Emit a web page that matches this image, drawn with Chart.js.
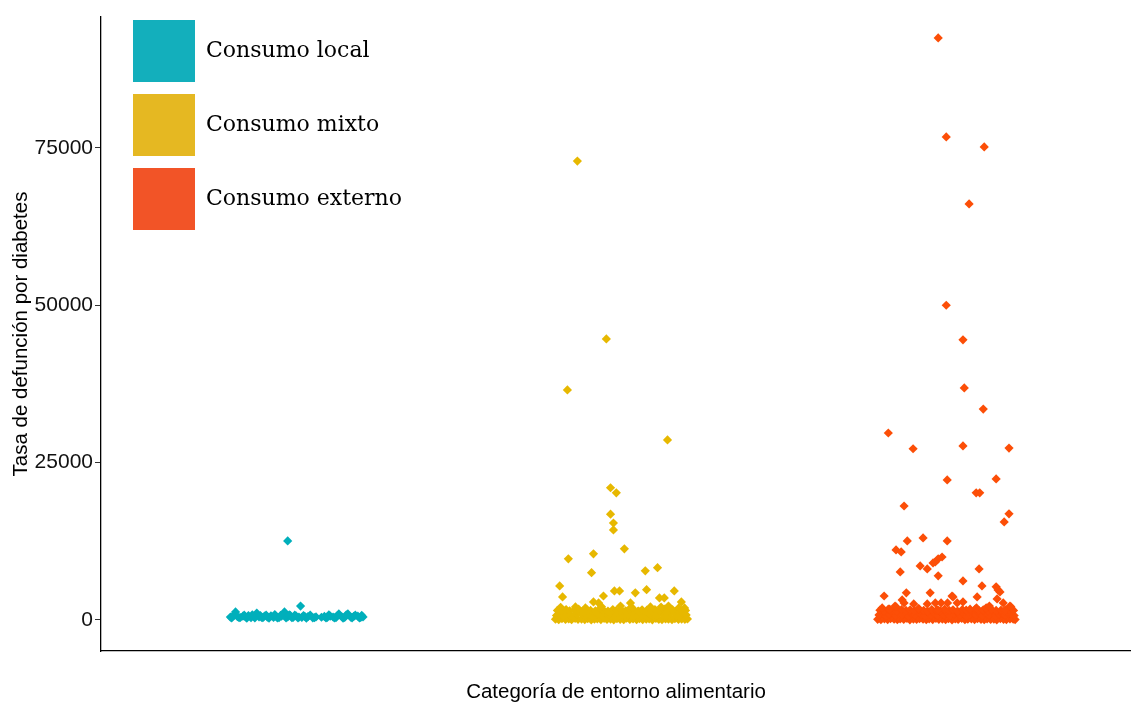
<!DOCTYPE html>
<html>
<head>
<meta charset="utf-8">
<script src="https://cdn.jsdelivr.net/npm/chart.js@4.4.1/dist/chart.umd.min.js"></script>
<style>
  body { margin: 0; background: #fff; }
</style>
</head>
<body>
<canvas id="myChart" width="1131" height="702"></canvas>
<script>
var categories = ["Consumo local", "Consumo mixto", "Consumo externo"];
var pointColors = ["#00AFBB", "#E7B800", "#FC4E07"];
var legendColors = ["#13AFBC", "#E5B822", "#F25427"];
var yTicks = [0, 25000, 50000, 75000];

// jittered x position (category index + jitter) and rate
var localX = [0.802, 0.811, 0.818, 0.824, 0.833, 0.841, 0.849, 0.858, 0.866, 0.874, 0.884, 0.891, 0.899, 0.908, 0.917, 0.928,
  0.936, 0.944, 0.953, 0.961, 0.970, 0.980, 0.988, 0.997, 1.006, 1.015, 1.024, 1.033, 1.043, 1.058, 1.068, 1.085,
  1.094, 1.103, 1.112, 1.121, 1.130, 1.139, 1.148, 1.157, 1.167, 1.176, 1.185, 1.198, 1.207, 1.214,
  0.806, 0.829, 0.853, 0.878, 0.903, 0.922, 0.948, 0.975, 0.993, 1.012, 1.038, 1.063, 1.099, 1.125, 1.152, 1.180, 1.203,
  0.815, 0.845, 0.870, 0.895, 0.913, 0.940, 0.958, 0.985, 1.002, 1.029, 1.050, 1.108, 1.135, 1.162, 1.190, 1.210,
  0.980, 1.020];
var localY = [450, 650, 1270, 520, 380, 600, 470, 700, 350, 560, 1100, 480, 400, 620, 430, 650,
  380, 560, 340, 600, 1270, 470, 720, 400, 640, 450, 380, 560, 520, 330, 480, 420,
  550, 380, 600, 460, 350, 950, 500, 390, 950, 440, 560, 600, 380, 470,
  300, 350, 280, 320, 360, 290, 330, 300, 340, 310, 280, 350, 300, 330, 290, 320, 310,
  800, 750, 820, 700, 780, 850, 720, 800, 760, 700, 780, 820, 740, 790, 760, 720,
  12550, 2200];

var mixtoX = [1.812, 1.822, 1.832, 1.843, 1.853, 1.862, 1.873, 1.882, 1.893, 1.903, 1.912, 1.923, 1.933, 1.942, 1.953, 1.963,
  1.972, 1.983, 1.993, 2.003, 2.013, 2.024, 2.033, 2.043, 2.053, 2.064, 2.073, 2.083, 2.094, 2.103, 2.113, 2.124,
  2.133, 2.143, 2.154, 2.163, 2.174, 2.183, 2.194, 2.204, 2.214, 2.222,
  1.815, 1.826, 1.838, 1.848, 1.858, 1.868, 1.878, 1.888, 1.898, 1.908, 1.918, 1.928, 1.938, 1.948, 1.958, 1.968,
  1.978, 1.988, 1.998, 2.008, 2.018, 2.028, 2.038, 2.048, 2.058, 2.068, 2.078, 2.088, 2.098, 2.108, 2.118, 2.128,
  2.138, 2.148, 2.158, 2.168, 2.178, 2.188, 2.198, 2.208, 2.218,
  1.818, 1.831, 1.845, 1.856, 1.871, 1.884, 1.896, 1.910, 1.921, 1.936, 1.950, 1.961, 1.975, 1.990, 2.001, 2.016,
  2.030, 2.041, 2.056, 2.070, 2.081, 2.096, 2.110, 2.121, 2.136, 2.150, 2.161, 2.176, 2.190, 2.201, 2.216,
  1.874, 2.014, 2.107, 2.163, 1.828, 1.905, 1.955, 2.050, 2.140, 2.195,
  1.880, 1.970, 1.849, 2.160, 1.983, 2.001, 1.983, 1.992, 1.992, 2.026, 1.852, 1.930, 1.924, 2.091, 2.129,
  1.825, 1.834, 1.995, 2.011, 2.060, 2.095, 2.135, 2.150, 2.181, 2.203, 1.961, 1.930, 1.946, 2.045, 2.213];
var mixtoY = [120, 40, 210, 80, 160, 30, 250, 90, 140, 60, 200, 20, 110, 170, 50, 230,
  70, 130, 10, 190, 100, 40, 260, 80, 150, 30, 210, 60, 120, 180, 20, 240,
  90, 50, 160, 110, 30, 200, 70, 140, 90, 150,
  700, 900, 650, 1050, 800, 600, 950, 1200, 750, 850, 1000, 650, 1300, 900, 700, 1100,
  800, 1250, 650, 950, 1000, 700, 850, 1150, 600, 1350, 900, 750, 1050, 800, 950, 700,
  1200, 850, 650, 1000, 1300, 750, 900, 1100, 800,
  1500, 1400, 1650, 1450, 1550, 1700, 1400, 1600, 1500, 1450, 1750, 1550, 1400, 1650, 1500, 1600,
  1450, 1700, 1500, 1400, 1600, 1550, 1450, 1650, 1500, 1700, 1400, 1600, 1550, 1450, 1500,
  2070, 2200, 2070, 2200, 2000, 1900, 2100, 1950, 2050, 1900,
  72900, 44650, 36550, 28600, 21000, 20200, 16800, 15400, 14300, 11300, 9700, 10500, 7500, 7800, 8300,
  5400, 3650, 4600, 4600, 4300, 4800, 3500, 3500, 4600, 2860, 3800, 2860, 2700, 2700, 1900];

var externoX = [2.813, 2.823, 2.834, 2.844, 2.853, 2.864, 2.874, 2.883, 2.894, 2.904, 2.913, 2.924, 2.934, 2.943, 2.954, 2.964,
  2.973, 2.984, 2.994, 3.003, 3.014, 3.024, 3.033, 3.044, 3.054, 3.063, 3.074, 3.084, 3.093, 3.104, 3.114, 3.123,
  3.134, 3.144, 3.153, 3.164, 3.174, 3.183, 3.194, 3.204, 3.213, 3.224, 3.234, 3.240,
  2.817, 2.828, 2.839, 2.849, 2.859, 2.869, 2.879, 2.889, 2.899, 2.909, 2.919, 2.929, 2.939, 2.949, 2.959, 2.969,
  2.979, 2.989, 2.999, 3.009, 3.019, 3.029, 3.039, 3.049, 3.059, 3.069, 3.079, 3.089, 3.099, 3.109, 3.119, 3.129,
  3.139, 3.149, 3.159, 3.169, 3.179, 3.189, 3.199, 3.209, 3.219, 3.229, 3.237,
  2.820, 2.833, 2.846, 2.861, 2.872, 2.887, 2.901, 2.914, 2.927, 2.941, 2.956, 2.968, 2.981, 2.996, 3.007, 3.021,
  3.035, 3.047, 3.061, 3.076, 3.088, 3.101, 3.116, 3.127, 3.141, 3.156, 3.167, 3.181, 3.196, 3.207, 3.221, 3.235,
  2.867, 2.925, 3.044, 3.224, 2.850, 2.940, 3.100, 3.150, 3.210, 3.000,
  3.001, 3.026, 3.144, 3.097, 3.026, 3.078, 3.082, 3.141, 2.846, 2.923, 3.078, 3.221, 3.029, 3.181, 3.119, 3.130,
  2.895, 3.221, 3.206, 2.905, 2.954, 3.029, 2.870, 2.886, 3.013, 3.001, 2.992, 2.985, 2.945, 2.967, 2.883, 3.001,
  3.128, 3.078, 3.137, 3.181, 3.187, 3.193, 3.184, 2.833, 2.902, 2.976, 3.047, 3.122, 2.889, 2.895, 2.870, 3.078,
  3.060, 3.203, 3.227, 2.827, 2.967, 2.992, 3.010, 3.030, 3.120, 3.160];
var externoY = [90, 30, 180, 60, 220, 120, 40, 160, 80, 250, 20, 140, 70, 200, 110, 30,
  170, 60, 230, 90, 130, 50, 190, 20, 150, 80, 240, 40, 120, 170, 60, 210,
  100, 30, 180, 70, 140, 20, 200, 90, 50, 160, 110, 60,
  800, 1100, 650, 950, 1250, 700, 1050, 850, 1300, 600, 1000, 750, 1150, 900, 650, 1200,
  800, 1000, 700, 1350, 850, 1100, 650, 950, 1250, 750, 1050, 600, 900, 1200, 800, 1000,
  700, 1150, 850, 1300, 650, 950, 1100, 750, 1000, 850, 700,
  1550, 1450, 1700, 1500, 1400, 1650, 1500, 1600, 1450, 1750, 1500, 1400, 1650, 1550, 1450, 1700,
  1500, 1600, 1400, 1650, 1550, 1450, 1700, 1500, 1600, 1400, 1650, 1500, 1550, 1450, 1600, 1500,
  2200, 2540, 3800, 2200, 1700, 1800, 1700, 1900, 1600, 1600,
  92480, 76750, 75160, 66100, 50000, 44500, 36860, 33500, 29700, 27200, 27650, 27300, 22250, 22400, 20200, 20200,
  18100, 16850, 15570, 12550, 13030, 12550, 11120, 10800, 10000, 9700, 9200, 9050, 8580, 8100, 7630, 7000,
  8100, 6200, 5400, 5250, 4770, 4450, 3340, 3800, 4300, 4300, 3650, 3650, 3180, 2700, 2070, 2860,
  2700, 2700, 2070, 1900, 2540, 2700, 2700, 2700, 1900, 2200];

function toPoints(xs, ys) {
  return xs.map(function (x, i) { return { x: x, y: ys[i] }; });
}

var seriesX = [localX, mixtoX, externoX];
var seriesY = [localY, mixtoY, externoY];

var ctx = document.getElementById("myChart");

var legendNudge = {
  id: "legendNudge",
  afterLayout: function (chart) {
    if (chart.legend) {
      chart.legend.left += 20;
      chart.legend.top += 8;
    }
  }
};

var myChart = new Chart(ctx, {
  type: "scatter",
  data: {
    datasets: categories.map(function (c, i) {
      return {
        label: c,
        data: toPoints(seriesX[i], seriesY[i]),
        backgroundColor: pointColors[i],
        borderWidth: 0,
        pointStyle: "rectRot",
        pointRadius: 4.6,
        pointHoverRadius: 4.6
      };
    })
  },
  options: {
    responsive: false,
    animation: false,
    layout: { autoPadding: false, padding: { top: 17, right: 0, left: 0, bottom: 0 } },
    plugins: {
      tooltip: { enabled: false },
      legend: {
        position: "chartArea",
        align: "start",
        labels: {
          boxWidth: 62,
          boxHeight: 62,
          padding: 12,
          color: "#000",
          font: { family: "'DejaVu Serif', serif", size: 22 },
          generateLabels: function () {
            return categories.map(function (c, i) {
              return { text: c, fillStyle: legendColors[i], strokeStyle: legendColors[i], lineWidth: 0, datasetIndex: i, hidden: false };
            });
          }
        }
      }
    },
    scales: {
      x: {
        type: "linear",
        min: 0.4,
        max: 3.6,
        grid: { display: false },
        ticks: { display: false },
        border: { display: true, color: "#000", width: 1.3 },
        title: {
          display: true,
          text: "Categoría de entorno alimentario",
          color: "#000",
          font: { family: "'Liberation Sans', Arial, sans-serif", size: 20.5 },
          padding: { top: 0, bottom: -3 }
        },
        afterFit: function (scale) { scale.height = 51; }
      },
      y: {
        min: -4940,
        max: 95800,
        afterBuildTicks: function (scale) {
          scale.ticks = yTicks.map(function (v) { return { value: v }; });
        },
        grid: { display: true, drawOnChartArea: false, drawTicks: true, tickLength: 6, color: "#333", lineWidth: 1 },
        border: { display: true, color: "#000", width: 1.3 },
        ticks: {
          color: "#111",
          padding: 2,
          font: { family: "'Liberation Sans', Arial, sans-serif", size: 21 },
          callback: function (v) { return String(v); }
        },
        title: {
          display: true,
          text: "Tasa de defunción por diabetes",
          color: "#000",
          font: { family: "'Liberation Sans', Arial, sans-serif", size: 20.5 },
          padding: { top: 9, bottom: 0 }
        },
        afterFit: function (scale) { scale.width = 101; }
      }
    }
  },
  plugins: [legendNudge]
});
</script>
</body>
</html>
